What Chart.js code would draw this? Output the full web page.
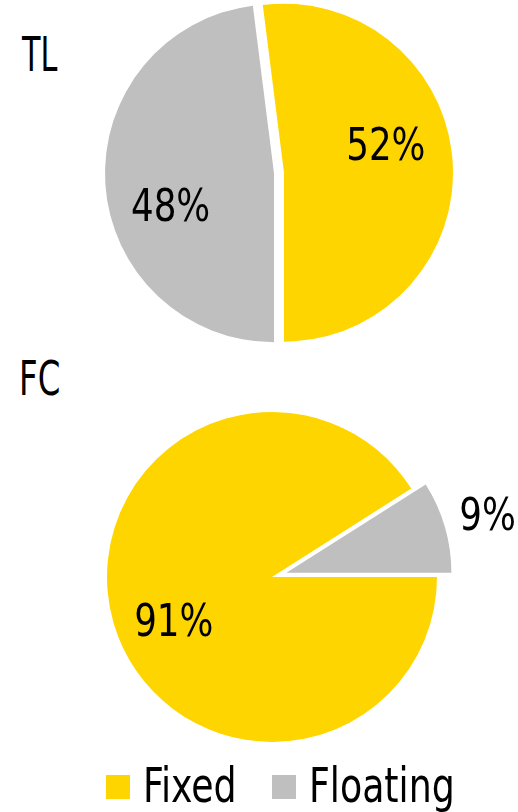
<!DOCTYPE html>
<html><head><meta charset="utf-8">
<script src="https://cdn.jsdelivr.net/npm/chart.js@4.4.0/dist/chart.umd.min.js"></script>
<style>
html,body{margin:0;padding:0;background:#fff;overflow:hidden;}
body{width:518px;height:812px;position:relative;font-family:"Liberation Sans Narrow","DejaVu Sans Condensed",sans-serif;color:#000;}
.title{position:absolute;font-size:48px;line-height:1;transform-origin:0 0;white-space:nowrap;}
canvas{position:absolute;left:0;}
#legend{position:absolute;left:106px;top:761px;height:48px;font-size:48px;line-height:1;white-space:nowrap;}
.sw{position:absolute;width:24px;height:24px;top:14px;}
.lt{position:absolute;top:0;transform-origin:0 0;}
</style></head><body>
<div class="title" id="t1" style="left:22px;top:30px"></div>
<div class="title" id="t2" style="left:19px;top:354px"></div>
<canvas id="c1" width="518" height="346" style="top:0"></canvas>
<canvas id="c2" width="518" height="374" style="top:390px"></canvas>
<div id="legend"></div>
<script>
const categories = ["Fixed", "Floating"];
const colors = ["#FFD500", "#BFBFBF"];
const chartTitles = ["TL", "FC"];
const tlValues = [52, 48];
const fcValues = [91, 9];

const FONT = '"Liberation Sans Narrow","DejaVu Sans Condensed",sans-serif';

const t1 = document.getElementById('t1'), t2 = document.getElementById('t2');
t1.textContent = chartTitles[0]; t1.style.transform = 'scaleX(0.7)';
t2.textContent = chartTitles[1]; t2.style.transform = 'scaleX(0.75)';

// legend built from categories / colors
const legend = document.getElementById('legend');
const LEG_SCALE = 0.84;
let lx = 0;
categories.forEach((c, i) => {
  const sw = document.createElement('div'); sw.className = 'sw';
  sw.style.background = colors[i]; sw.style.left = lx + 'px';
  legend.appendChild(sw);
  lx += 24 + 13;
  const tx = document.createElement('span'); tx.className = 'lt';
  tx.textContent = c; tx.style.left = lx + 'px';
  tx.style.transform = 'scaleX(' + LEG_SCALE + ')';
  legend.appendChild(tx);
  lx += tx.offsetWidth * LEG_SCALE + 36;
});

const labelPlugin = {
  id: 'pctLabels',
  beforeDatasetDraw(chart, args) {
    const ctx = chart.ctx;
    const ds = chart.data.datasets[args.index];
    args.meta.data.forEach((arc, i) => {
      const mid = (arc.startAngle + arc.endAngle) / 2;
      const e = ds.explode[i];
      ctx.save();
      ctx.translate(Math.cos(mid) * e, Math.sin(mid) * e);
      arc.draw(ctx, chart.chartArea);
      ctx.restore();
    });
    return false;
  },
  afterDatasetsDraw(chart) {
    const ctx = chart.ctx;
    const ds = chart.data.datasets[0];
    const meta = chart.getDatasetMeta(0);
    const size = 44;
    ctx.save();
    ctx.font = size + 'px ' + FONT;
    ctx.fillStyle = '#000';
    ctx.textAlign = 'center';
    ctx.textBaseline = 'alphabetic';
    meta.data.forEach((arc, i) => {
      const mid = (arc.startAngle + arc.endAngle) / 2;
      const e = ds.explode[i];
      const a = mid + ds.labelShift[i] * Math.PI / 180;
      const r = arc.outerRadius * ds.labelRadius[i];
      const x = arc.x + Math.cos(mid) * e + Math.cos(a) * r;
      const y = arc.y + Math.sin(mid) * e + Math.sin(a) * r;
      ctx.save();
      ctx.translate(x, y + size * 0.3645);
      ctx.scale(0.9, 1);
      ctx.fillText(ds.data[i] + '%', 0, 0);
      ctx.restore();
    });
    ctx.restore();
  }
};

function makePie(id, values, rotation, radius, explode, padLeft, labelRadius, labelShift) {
  return new Chart(document.getElementById(id), {
    type: 'pie',
    data: {
      labels: categories,
      datasets: [{
        data: values,
        backgroundColor: colors,
        borderWidth: 0,
        offset: 0,
        hoverOffset: 0,
        explode: explode,
        labelRadius: labelRadius,
        labelShift: labelShift
      }]
    },
    options: {
      responsive: false,
      animation: false,
      events: [],
      rotation: rotation,
      radius: radius,
      layout: { padding: { left: padLeft } },
      plugins: { legend: { display: false }, tooltip: { enabled: false } }
    },
    plugins: [labelPlugin]
  });
}

makePie('c1', tlValues, -7.2, 169, [5, 5], 40, [0.627, 0.64], [-12.4, -13.4]);
makePie('c2', fcValues, 90, 165, [0, 15], 26, [0.65, 1.27], [-7.4, 0]);
</script>
</body></html>
